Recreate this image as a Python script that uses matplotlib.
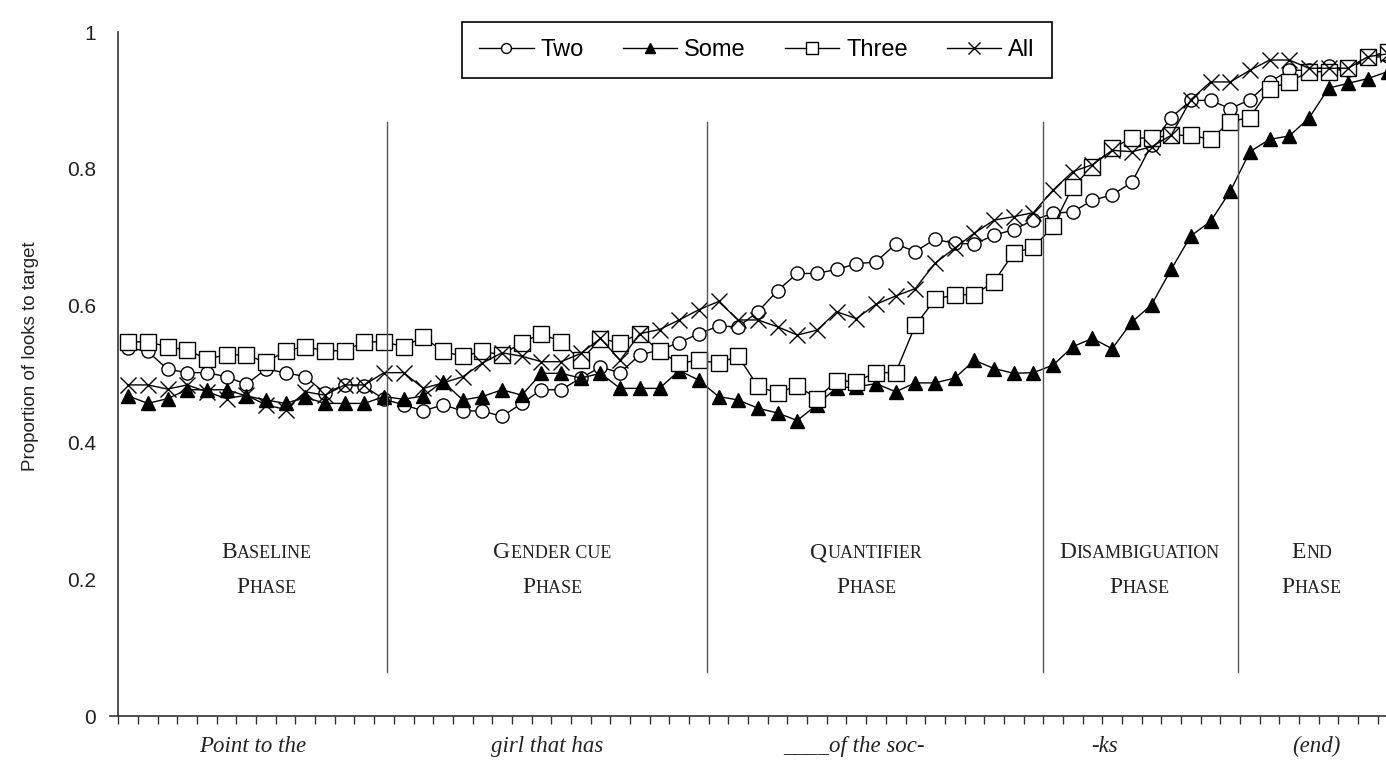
import matplotlib
matplotlib.use("Agg")
import matplotlib.pyplot as plt
import numpy as np
from matplotlib.offsetbox import TextArea, HPacker, VPacker, AnnotationBbox

# ---------------- data ----------------
two = [0.538, 0.533, 0.507, 0.502, 0.502, 0.496, 0.485, 0.507, 0.502, 0.496,
       0.472, 0.484, 0.482, 0.463, 0.455, 0.446, 0.455, 0.446, 0.446, 0.438,
       0.457, 0.477, 0.477, 0.494, 0.510, 0.502, 0.528, 0.535, 0.546, 0.559,
       0.570, 0.569, 0.591, 0.622, 0.647, 0.647, 0.653, 0.661, 0.664, 0.690,
       0.679, 0.697, 0.691, 0.690, 0.703, 0.711, 0.725, 0.735, 0.737, 0.754,
       0.762, 0.780, 0.835, 0.875, 0.900, 0.900, 0.888, 0.901, 0.927, 0.944,
       0.944, 0.950, 0.945, 0.962, 0.965]
some = [0.468, 0.457, 0.464, 0.477, 0.477, 0.477, 0.468, 0.462, 0.457, 0.466,
        0.457, 0.457, 0.457, 0.467, 0.463, 0.468, 0.489, 0.462, 0.467, 0.477,
        0.469, 0.501, 0.501, 0.494, 0.501, 0.479, 0.479, 0.479, 0.505, 0.491,
        0.467, 0.462, 0.450, 0.443, 0.432, 0.455, 0.480, 0.481, 0.486, 0.474,
        0.487, 0.487, 0.494, 0.520, 0.508, 0.501, 0.502, 0.513, 0.540, 0.552,
        0.537, 0.576, 0.601, 0.653, 0.702, 0.723, 0.767, 0.825, 0.843, 0.848,
        0.874, 0.918, 0.925, 0.932, 0.942]
three = [0.547, 0.547, 0.540, 0.535, 0.522, 0.528, 0.528, 0.517, 0.534, 0.540,
         0.534, 0.534, 0.547, 0.547, 0.540, 0.554, 0.533, 0.526, 0.533, 0.528,
         0.546, 0.559, 0.547, 0.520, 0.551, 0.546, 0.559, 0.533, 0.516, 0.520,
         0.516, 0.526, 0.482, 0.472, 0.483, 0.464, 0.490, 0.489, 0.502, 0.502,
         0.571, 0.609, 0.616, 0.616, 0.635, 0.677, 0.685, 0.716, 0.774, 0.803,
         0.830, 0.845, 0.845, 0.849, 0.849, 0.843, 0.869, 0.875, 0.917, 0.927,
         0.942, 0.942, 0.947, 0.964, 0.971]
all_ = [0.484, 0.484, 0.478, 0.484, 0.474, 0.464, 0.469, 0.455, 0.448, 0.474,
        0.469, 0.484, 0.484, 0.502, 0.502, 0.479, 0.487, 0.496, 0.516, 0.531,
        0.526, 0.518, 0.518, 0.530, 0.552, 0.520, 0.559, 0.565, 0.579, 0.594,
        0.606, 0.579, 0.579, 0.569, 0.557, 0.564, 0.591, 0.581, 0.602, 0.614,
        0.625, 0.662, 0.684, 0.706, 0.725, 0.730, 0.736, 0.769, 0.796, 0.806,
        0.827, 0.825, 0.832, 0.849, 0.901, 0.927, 0.927, 0.944, 0.959, 0.959,
        0.947, 0.947, 0.947, 0.964, 0.968]
series_names = ["Two", "Some", "Three", "All"]

word_labels = ["Point to the", "girl that has", "____of the soc-", "-ks", "(end)"]
word_pos = [6.84, 21.8, 37.4, 50.1, 60.9]

phase_names = [("Baseline", "Phase"), ("Gender cue", "Phase"), ("Quantifier", "Phase"),
               ("Disambiguation", "Phase"), ("End", "Phase")]
phase_label_pos = [7.55, 22.05, 38.0, 51.9, 60.65]
phase_bounds = [13.65, 29.9, 47.0, 56.9]

yticks = [0, 0.2, 0.4, 0.6, 0.8, 1]
ytick_labels = ["0", "0.2", "0.4", "0.6", "0.8", "1"]

# ---------------- figure ----------------
W, H = 1386, 765
fig = plt.figure(figsize=(W / 100, H / 100), dpi=100)
ax_left = 118.3 / W
ax_bottom = 1 - 716 / H
ax_h = (716 - 32) / H
ax = fig.add_axes([ax_left, ax_bottom, 1 - ax_left, ax_h])

n = len(two)
x = np.arange(n) + 0.5

sans = "Liberation Sans"
serif = "Liberation Serif"

styles = [
    dict(marker="o", markersize=9.5, markerfacecolor="white", markeredgecolor="black", markeredgewidth=1.0),
    dict(marker="^", markersize=10, markerfacecolor="black", markeredgecolor="black", markeredgewidth=1.0),
    dict(marker="s", markersize=11, markerfacecolor="white", markeredgecolor="black", markeredgewidth=1.0),
    dict(marker="x", markersize=11, markerfacecolor="black", markeredgecolor="black", markeredgewidth=1.0),
]
handles = []
for vals, name, st in zip([two, some, three, all_], series_names, styles):
    h, = ax.plot(x, vals, color="black", linewidth=1.0, label=name, **st)
    handles.append(h)

for b in phase_bounds:
    ax.plot([b, b], [0.064, 0.868], color="#555555", linewidth=1.0)

xmax = (W - 118.3) / 19.68
ax.set_xlim(0, xmax)
ax.set_ylim(0, 1)

ax.spines["top"].set_visible(False)
ax.spines["right"].set_visible(False)
for s in ("left", "bottom"):
    ax.spines[s].set_linewidth(1.2)
    ax.spines[s].set_color("#333333")
ax.spines["bottom"].set_bounds(-0.4, xmax)

ax.set_xticks(np.arange(0, n))
ax.set_xticklabels([])
ax.tick_params(axis="x", direction="out", length=6, width=1.0, color="#333333")
ax.set_yticks(yticks)
ax.set_yticklabels(ytick_labels, fontsize=15, family=sans, color="#222222")
ax.tick_params(axis="y", direction="out", length=0, pad=16)

for lab, pos in zip(word_labels, word_pos):
    ax.text(pos, -0.044, lab, ha="center", va="center", fontsize=16.5,
            family=serif, style="italic", color="#222222",
            transform=ax.get_xaxis_transform(), clip_on=False)


def smallcaps_box(text, big=17, small=13):
    parts = []
    cur = ""
    cur_big = None
    for ch in text:
        isbig = ch.isupper()
        if cur_big is None or isbig == cur_big:
            cur += ch
            cur_big = isbig
        else:
            parts.append((cur, cur_big))
            cur = ch
            cur_big = isbig
    if cur:
        parts.append((cur, cur_big))
    kids = []
    for t, b in parts:
        kids.append(TextArea(t.upper(), textprops=dict(fontsize=big if b else small,
                                                         family=serif, color="#222222")))
    return HPacker(children=kids, align="baseline", pad=0, sep=0)


for (l1, l2), pos in zip(phase_names, phase_label_pos):
    box = VPacker(children=[smallcaps_box(l1), smallcaps_box(l2)], align="center", pad=0, sep=10)
    ab = AnnotationBbox(box, (pos, 0.213), xycoords="data", frameon=False,
                        box_alignment=(0.5, 0.5), pad=0)
    ax.add_artist(ab)

fig.text(31 / W, 1 - 356 / H, "Proportion of looks to target", rotation=90,
         ha="center", va="center", fontsize=13.5, family=sans, color="#222222")

leg = fig.legend(handles=handles, labels=series_names, loc="upper center",
                 bbox_to_anchor=(757 / W, 1 - 22 / H), ncol=4,
                 prop=dict(family=sans, size=17), frameon=True, fancybox=False,
                 edgecolor="black", framealpha=1, markerscale=0.75,
                 handlelength=2.3, handletextpad=0.3, columnspacing=1.65,
                 borderpad=0.72, borderaxespad=0)
leg.get_frame().set_linewidth(1.2)

fig.savefig("out.png", dpi=100)
